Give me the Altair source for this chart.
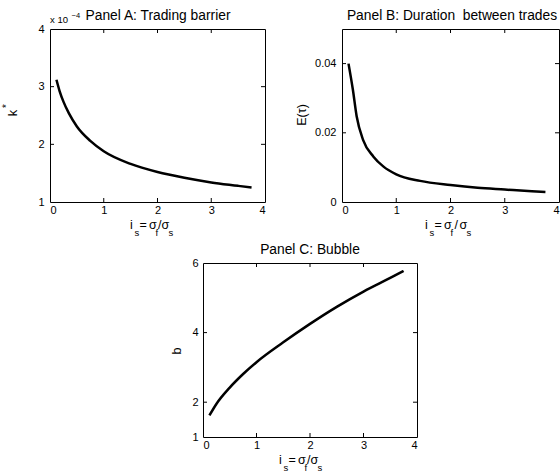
import altair as alt
import pandas as pd

# ---- data ----
i_s_A = [0.12, 0.18, 0.25, 0.35, 0.5, 0.75, 1.0, 1.5, 2.0, 2.5, 3.0, 3.5, 3.75]
k_star = [3.12, 2.92, 2.74, 2.54, 2.31, 2.06, 1.88, 1.66, 1.52, 1.42, 1.34, 1.28, 1.25]

i_s_B = [0.12, 0.2, 0.27, 0.39, 0.58, 0.76, 1.0, 1.44, 2.0, 2.5, 3.0, 3.5, 3.75]
e_tau = [0.040, 0.0325, 0.0248, 0.0179, 0.0131, 0.0103, 0.0080, 0.0061, 0.0049, 0.0041, 0.0036, 0.0031, 0.0029]

i_s_C = [0.12, 0.25, 0.5, 0.75, 1.0, 1.5, 2.0, 2.5, 3.0, 3.5, 3.75]
bubble = [1.62, 1.95, 2.42, 2.81, 3.15, 3.72, 4.25, 4.74, 5.18, 5.57, 5.77]

x_ticks = [0, 1, 2, 3, 4]
yticks_A = [1, 2, 3, 4]
yticks_B = [0, 0.02, 0.04]
yticks_C = [1, 2, 4, 6]

FONT = "Liberation Sans"
TITLE_SIZE = 13.8
one = pd.DataFrame({"a": [0]})


def txt(s, x, y, size=12, align="left", angle=0, baseline="alphabetic"):
    kw = dict(text=s, font=FONT, fontSize=size, align=align, baseline=baseline, color="black")
    if angle:
        kw["angle"] = angle
    return alt.Chart(one).mark_text(**kw).encode(x=alt.value(x), y=alt.value(y))


def panel(xs, ys, ydom, yticks, yfmt, w, h, title, title_x, ylab_parts, xt0, lab_pad, slash_gap=0):
    df = pd.DataFrame({"x": xs, "y": ys})
    xsc = alt.Scale(domain=[0, 4], nice=False, zero=False)
    ysc = alt.Scale(domain=ydom, nice=False, zero=False)
    xax = alt.Axis(values=x_ticks, ticks=False, domain=False, grid=False,
                   labelPadding=2, labelFontSize=11, labelFont=FONT,
                   labelColor="black", tickSize=0, title=None, format="d")
    yax = alt.Axis(values=yticks, ticks=False, domain=False, grid=False,
                   labelPadding=lab_pad, labelFontSize=11, labelFont=FONT,
                   labelColor="black", tickSize=0, title=None, format=yfmt)
    line = alt.Chart(df).mark_line(color="black", strokeWidth=2.5, interpolate="monotone").encode(
        x=alt.X("x:Q", scale=xsc, axis=xax),
        y=alt.Y("y:Q", scale=ysc, axis=yax),
    )
    xin = [v for v in x_ticks if 0 < v < 4]
    yin = [v for v in yticks if ydom[0] < v < ydom[1]]
    xt = pd.DataFrame({"x": xin})
    yt = pd.DataFrame({"y": yin})
    rule = dict(color="black", strokeWidth=1)
    t_top = alt.Chart(xt).mark_rule(**rule).encode(x=alt.X("x:Q", scale=xsc, axis=xax), y=alt.value(0), y2=alt.value(4))
    t_bot = alt.Chart(xt).mark_rule(**rule).encode(x=alt.X("x:Q", scale=xsc, axis=xax), y=alt.value(h), y2=alt.value(h - 4))
    t_left = alt.Chart(yt).mark_rule(**rule).encode(y=alt.Y("y:Q", scale=ysc, axis=yax), x=alt.value(0), x2=alt.value(4))
    t_right = alt.Chart(yt).mark_rule(**rule).encode(y=alt.Y("y:Q", scale=ysc, axis=yax), x=alt.value(w), x2=alt.value(w - 4))

    layers = [line, t_top, t_bot, t_left, t_right]
    layers.append(txt(title, title_x, -9, size=TITLE_SIZE, align="center"))
    for (s, x, y, size) in ylab_parts:
        layers.append(txt(s, x, y, size=size, align="center", angle=270, baseline="middle"))
    base = h + 27
    sub = h + 33.5
    layers += [
        txt("i", xt0, base, size=12.5),
        txt("s", xt0 + 4.5, sub, size=9.5),
        txt("=", xt0 + 9.5, base, size=12.5),
        txt("σ", xt0 + 19, base, size=12.5),
        txt("f", xt0 + 25.5, sub, size=9.5),
        txt("/", xt0 + 28 + slash_gap, base, size=12.5),
        txt("σ", xt0 + 31.5 + 2 * slash_gap, base, size=12.5),
        txt("s", xt0 + 38.5 + 2 * slash_gap, sub, size=9.5),
    ]
    return layers


wA, hA = 215, 173
layersA = panel(i_s_A, k_star, [1, 4], yticks_A, "d", wA, hA, "Panel A: Trading barrier", 108,
                [("k", -37, 84, 13), ("*", -43, 77, 10)], 80, 6)
layersA += [txt("x 10", 0, -6, size=9.5), txt("−4", 21.5, -11, size=7.5)]
chartA = alt.layer(*layersA).properties(width=wA, height=hA)

wB, hB = 217, 173
layersB = panel(i_s_B, e_tau, [0, 0.05], yticks_B, "~g", wB, hB, "Panel B: Duration\u00a0\u00a0between trades", 110,
                [("E(τ)", -40, 86, 12.5)], 83, 6, slash_gap=1.5)
chartB = alt.layer(*layersB).properties(width=wB, height=hB)

wC, hC = 214, 174
layersC = panel(i_s_C, bubble, [1, 6], yticks_C, "d", wC, hC, "Panel C: Bubble", 107,
                [("b", -26, 88, 12.5)], 76, 5)
chartC = alt.layer(*layersC).properties(width=wC, height=hC)

spacer = alt.Chart(one).mark_point(opacity=0).encode(
    x=alt.X("a:Q", axis=None), y=alt.Y("a:Q", axis=None)
).properties(width=1, height=hC, view=alt.ViewBackground(stroke="transparent"))

top = alt.hconcat(chartA, chartB, spacing=77, bounds="flush")
bottom = alt.hconcat(spacer, chartC, spacing=152, bounds="flush")
chart = alt.vconcat(top, bottom, spacing=4).properties(
    autosize=alt.AutoSizeParams(type="none"),
    padding={"left": 50, "top": 29, "right": 510, "bottom": 443},
    background="white",
).configure_view(stroke="black", strokeWidth=1)

chart.save("out.html", embed_options={"renderer": "svg", "actions": False})
